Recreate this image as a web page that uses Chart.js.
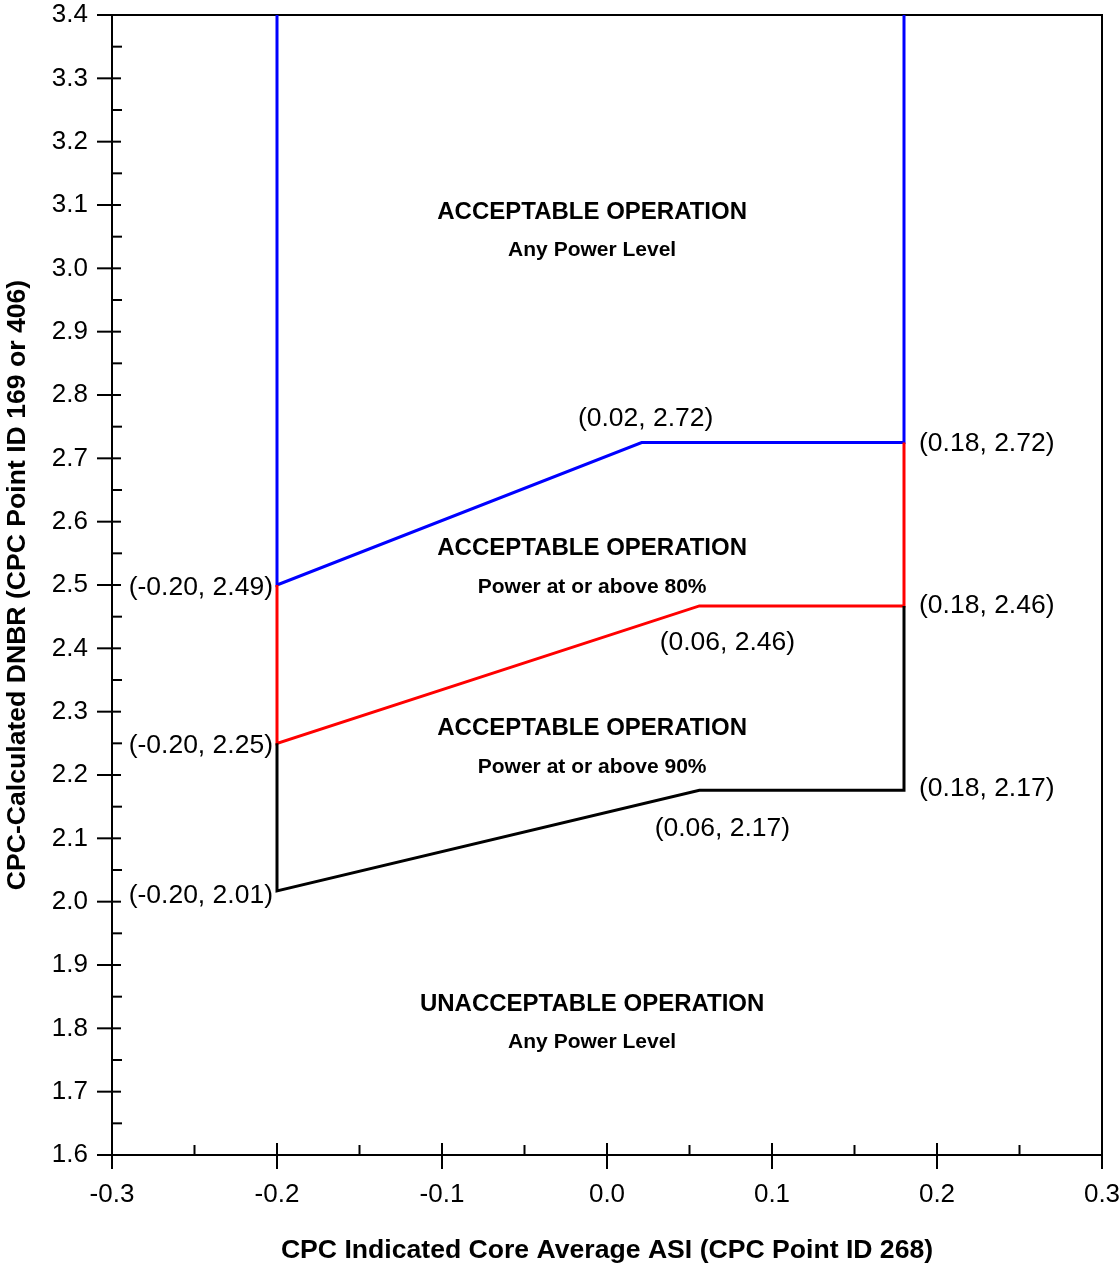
<!DOCTYPE html>
<html>
<head>
<meta charset="utf-8">
<script src="https://cdn.jsdelivr.net/npm/chart.js@4.4.1/dist/chart.umd.min.js"></script>
<style>
html, body { margin: 0; padding: 0; background: #fff; }
#wrap { width: 1120px; height: 1265px; }
</style>
</head>
<body>
<div id="wrap"><canvas id="asiChart" width="1120" height="1265"></canvas></div>
<script>
// limit lines (x = ASI, y = DNBR)
const blueX = [-0.2, -0.2, 0.021, 0.18, 0.18];
const blueY = [3.4, 2.50, 2.725, 2.725, 3.4];
const redX = [-0.2, -0.2, 0.056, 0.18, 0.18];
const redY = [2.50, 2.25, 2.467, 2.467, 2.725];
const blackX = [-0.2, -0.2, 0.056, 0.18, 0.18];
const blackY = [2.25, 2.017, 2.176, 2.176, 2.467];

const xTickValues = [-0.3, -0.2, -0.1, 0.0, 0.1, 0.2, 0.3];
const yTickValues = [1.6, 1.7, 1.8, 1.9, 2.0, 2.1, 2.2, 2.3, 2.4, 2.5, 2.6, 2.7, 2.8, 2.9, 3.0, 3.1, 3.2, 3.3, 3.4];

const regionTitles = ['ACCEPTABLE OPERATION', 'ACCEPTABLE OPERATION', 'ACCEPTABLE OPERATION', 'UNACCEPTABLE OPERATION'];
const regionSubtitles = ['Any Power Level', 'Power at or above 80%', 'Power at or above 90%', 'Any Power Level'];
const regionTitleY = [3.089, 2.558, 2.274, 1.838];
const regionSubY = [3.029, 2.497, 2.213, 1.778];
const regionX = -0.009;

// corner labels: anchored on a vertex, nudged in pixels
const pointNotes = [
    { text: '(0.02, 2.72)', x: 0.021, y: 2.725, dx: 4, dy: -24, align: 'center' },
    { text: '(0.18, 2.72)', x: 0.18, y: 2.725, dx: 15, dy: 1, align: 'left' },
    { text: '(-0.20, 2.49)', x: -0.2, y: 2.50, dx: -4, dy: 3, align: 'right' },
    { text: '(0.06, 2.46)', x: 0.056, y: 2.467, dx: 28, dy: 37, align: 'center' },
    { text: '(0.18, 2.46)', x: 0.18, y: 2.467, dx: 15, dy: 0, align: 'left' },
    { text: '(-0.20, 2.25)', x: -0.2, y: 2.25, dx: -4, dy: 2, align: 'right' },
    { text: '(0.18, 2.17)', x: 0.18, y: 2.176, dx: 15, dy: -2, align: 'left' },
    { text: '(0.06, 2.17)', x: 0.056, y: 2.176, dx: 23, dy: 38, align: 'center' },
    { text: '(-0.20, 2.01)', x: -0.2, y: 2.017, dx: -4, dy: 5, align: 'right' }
];

const FONT = '"Liberation Sans", Arial, sans-serif';

function toPoints(xs, ys) {
    return xs.map((v, i) => ({ x: v, y: ys[i] }));
}

function line(ctx, x1, y1, x2, y2) {
    ctx.beginPath();
    ctx.moveTo(x1, y1);
    ctx.lineTo(x2, y2);
    ctx.stroke();
}

const frameAndTicks = {
    id: 'frameAndTicks',
    beforeDatasetsDraw(chart) {
        const { ctx, chartArea: a, scales: { x, y } } = chart;
        ctx.save();
        ctx.strokeStyle = '#000';
        ctx.lineWidth = 2;
        ctx.strokeRect(a.left, a.top, a.right - a.left, a.bottom - a.top);

        // x ticks: major cross the axis, minor point inwards
        x.ticks.forEach((t, i) => {
            const px = x.getPixelForValue(t.value);
            line(ctx, px, a.bottom - 12, px, a.bottom + 14);
            if (i < x.ticks.length - 1) {
                const mx = x.getPixelForValue((t.value + x.ticks[i + 1].value) / 2);
                line(ctx, mx, a.bottom - 10, mx, a.bottom);
            }
        });
        // y ticks
        y.ticks.forEach((t, i) => {
            const py = y.getPixelForValue(t.value);
            line(ctx, a.left - 15, py, a.left + 9, py);
            if (i < y.ticks.length - 1) {
                const my = y.getPixelForValue((t.value + y.ticks[i + 1].value) / 2);
                line(ctx, a.left, my, a.left + 10, my);
            }
        });
        ctx.restore();
    }
};

const notes = {
    id: 'notes',
    afterDatasetsDraw(chart) {
        const { ctx, scales: { x, y } } = chart;
        ctx.save();
        ctx.fillStyle = '#000';
        ctx.textBaseline = 'middle';
        ctx.textAlign = 'center';
        const cx = x.getPixelForValue(regionX);
        regionTitles.forEach((txt, i) => {
            ctx.font = 'bold 24px ' + FONT;
            ctx.fillText(txt, cx, y.getPixelForValue(regionTitleY[i]));
            ctx.font = 'bold 21px ' + FONT;
            ctx.fillText(regionSubtitles[i], cx, y.getPixelForValue(regionSubY[i]));
        });
        ctx.font = '26.5px ' + FONT;
        pointNotes.forEach(n => {
            ctx.textAlign = n.align;
            ctx.fillText(n.text, x.getPixelForValue(n.x) + n.dx, y.getPixelForValue(n.y) + n.dy);
        });
        ctx.restore();
    }
};

const ctx = document.getElementById('asiChart').getContext('2d');
const asiChart = new Chart(ctx, {
    type: 'scatter',
    data: {
        datasets: [
            { data: toPoints(blackX, blackY), borderColor: '#000000' },
            { data: toPoints(redX, redY), borderColor: '#ff0000' },
            { data: toPoints(blueX, blueY), borderColor: '#0000ff' }
        ]
    },
    options: {
        responsive: false,
        animation: false,
        devicePixelRatio: 1,
        layout: { padding: { top: 15, right: 18, left: 0, bottom: 0 } },
        elements: {
            line: { borderWidth: 3, tension: 0, borderJoinStyle: 'miter', borderCapStyle: 'butt' },
            point: { radius: 0, hoverRadius: 0 }
        },
        datasets: { scatter: { showLine: true, fill: false } },
        plugins: {
            legend: { display: false },
            tooltip: { enabled: false }
        },
        scales: {
            x: {
                type: 'linear',
                min: -0.3,
                max: 0.3,
                afterBuildTicks: s => { s.ticks = xTickValues.map(v => ({ value: v })); },
                afterFit: s => { s.height = 110; s.paddingLeft = 0; s.paddingRight = 0; },
                grid: { display: false, drawTicks: false },
                border: { display: false },
                ticks: {
                    color: '#000',
                    padding: 24,
                    maxRotation: 0,
                    font: { family: FONT, size: 26 },
                    callback: v => v.toFixed(1)
                },
                title: {
                    display: true,
                    text: 'CPC Indicated Core Average ASI (CPC Point ID 268)',
                    color: '#000',
                    font: { family: FONT, size: 26.6, weight: 'bold' },
                    padding: { top: 0, bottom: -2 }
                }
            },
            y: {
                type: 'linear',
                min: 1.6,
                max: 3.4,
                afterBuildTicks: s => { s.ticks = yTickValues.map(v => ({ value: v })); },
                afterFit: s => { s.width = 112; s.paddingTop = 0; s.paddingBottom = 0; },
                grid: { display: false, drawTicks: false },
                border: { display: false },
                ticks: {
                    color: '#000',
                    padding: 24,
                    font: { family: FONT, size: 26 },
                    callback: v => v.toFixed(1)
                },
                title: {
                    display: true,
                    text: 'CPC-Calculated DNBR (CPC Point ID 169 or 406)',
                    color: '#000',
                    font: { family: FONT, size: 26.6, weight: 'bold' },
                    padding: { top: 2, bottom: 0 }
                }
            }
        }
    },
    plugins: [frameAndTicks, notes]
});
</script>
</body>
</html>
